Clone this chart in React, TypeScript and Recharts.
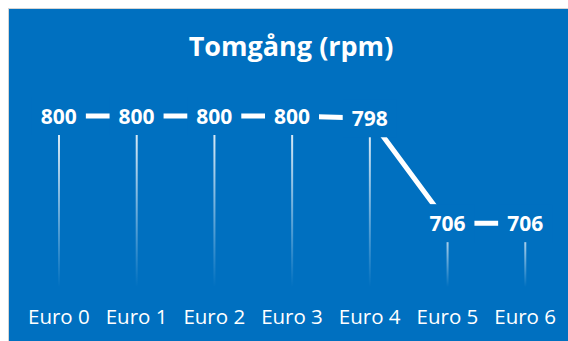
import React from "react";
import { ComposedChart, Bar, Line, XAxis, YAxis, LabelList } from "recharts";

const BLUE = "#0070C0";

const categories = ["Euro 0", "Euro 1", "Euro 2", "Euro 3", "Euro 4", "Euro 5", "Euro 6"];
const idleRpm = [800, 800, 800, 800, 798, 706, 706];

const data = categories.map((name, i) => ({ name, rpm: idleRpm[i] }));

// value label sits on a blue box so the line breaks around it
function ValueLabel(props: any) {
  const x = props.x ?? props.viewBox?.x;
  const y = props.y ?? props.viewBox?.y;
  if (x == null || y == null) return null;
  return (
    <g>
      <rect x={x - 27} y={y - 19} width={54} height={38} fill={BLUE} />
      <text
        x={x}
        y={y}
        textAnchor="middle"
        dominantBaseline="central"
        fill="#fff"
        fontFamily="'Open Sans', sans-serif"
        fontWeight={700}
        fontSize={21}
      >
        {props.value}
      </text>
    </g>
  );
}

export default function App() {
  return (
    <div
      style={{
        position: "fixed",
        left: 8,
        top: 8,
        width: 560,
        height: 333,
        boxSizing: "border-box",
        borderTop: "1px solid #d4d4d4",
        borderLeft: "1px solid #d4d4d4",
        background: BLUE,
      }}
    >
      <div
        style={{
          position: "absolute",
          left: 0,
          top: 23,
          width: 559,
          paddingLeft: 5,
          boxSizing: "border-box",
          textAlign: "center",
          color: "#fff",
          fontFamily: "'Open Sans', sans-serif",
          fontWeight: 700,
          fontSize: 27,
          lineHeight: 1,
        }}
      >
        Tomgång (rpm)
      </div>
      <div style={{ position: "absolute", left: 0, top: 0 }}>
        <ComposedChart
          width={559}
          height={332}
          data={data}
          margin={{ top: 50, right: 4, bottom: 0, left: 11 }}
        >
          <defs>
            <linearGradient id="dropFade" x1="0" y1="0" x2="0" y2="1">
              <stop offset="0%" stopColor="#ffffff" stopOpacity={0.95} />
              <stop offset="100%" stopColor="#ffffff" stopOpacity={0} />
            </linearGradient>
          </defs>
          <XAxis
            dataKey="name"
            axisLine={false}
            tickLine={false}
            tickSize={0}
            tickMargin={22}
            height={54}
            interval={0}
            tick={{
              fill: "#fff",
              fontSize: 20.5,
              fontFamily: "'Open Sans', sans-serif",
            }}
          />
          <YAxis hide domain={[650, 850]} allowDataOverflow />
          <Bar dataKey="rpm" barSize={2} fill="url(#dropFade)" isAnimationActive={false} />
          <Line
            dataKey="rpm"
            stroke="#fff"
            strokeWidth={5}
            dot={false}
            activeDot={false}
            isAnimationActive={false}
          >
            <LabelList dataKey="rpm" content={<ValueLabel />} />
          </Line>
        </ComposedChart>
      </div>
    </div>
  );
}
